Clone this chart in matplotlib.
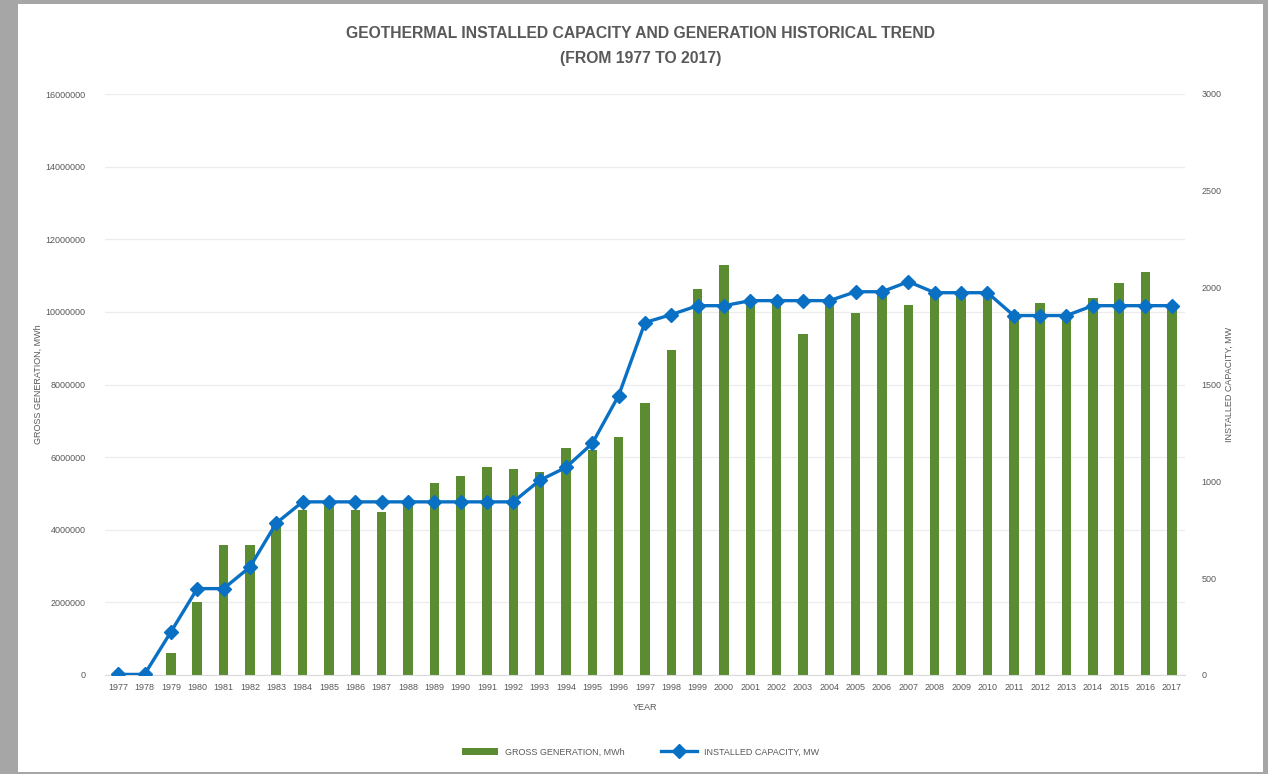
import matplotlib
matplotlib.use("Agg")
import matplotlib.pyplot as plt
from matplotlib.patches import Rectangle
from matplotlib.ticker import FixedLocator

years = ["1977", "1978", "1979", "1980", "1981", "1982", "1983", "1984", "1985", "1986",
         "1987", "1988", "1989", "1990", "1991", "1992", "1993", "1994", "1995", "1996",
         "1997", "1998", "1999", "2000", "2001", "2002", "2003", "2004", "2005", "2006",
         "2007", "2008", "2009", "2010", "2011", "2012", "2013", "2014", "2015", "2016", "2017"]

generation_mwh = [0, 0, 600000, 2000000, 3580000, 3580000, 4200000, 4550000, 4800000, 4550000,
                  4490000, 4750000, 5290000, 5480000, 5730000, 5670000, 5590000, 6250000, 6200000, 6550000,
                  7490000, 8950000, 10630000, 11300000, 10350000, 10300000, 9390000, 10300000, 9970000, 10520000,
                  10190000, 10600000, 10550000, 10450000, 10000000, 10250000, 9800000, 10390000, 10800000, 11100000,
                  10200000]

capacity_mw = [3, 3, 222, 446, 446, 557, 784, 894, 894, 894,
               894, 894, 894, 894, 894, 894, 1005, 1072, 1196, 1443,
               1820, 1861, 1907, 1907, 1933, 1933, 1933, 1933, 1979, 1979,
               2031, 1974, 1974, 1974, 1856, 1856, 1856, 1907, 1907, 1907,
               1907]

left_ticks = [0, 2000000, 4000000, 6000000, 8000000, 10000000, 12000000, 14000000, 16000000]
right_ticks = [0, 500, 1000, 1500, 2000, 2500, 3000]

title_text = "GEOTHERMAL INSTALLED CAPACITY AND GENERATION HISTORICAL TREND\n(FROM 1977 TO 2017)"
left_label = "GROSS GENERATION, MWh"
right_label = "INSTALLED CAPACITY, MW"
x_label = "YEAR"

FONT = ["Liberation Sans", "DejaVu Sans"]
plt.rcParams["font.family"] = FONT
TXT = "#595959"
GREEN = "#5b8c32"
BLUE = "#0a70c4"

fig = plt.figure(figsize=(12.68, 7.74), dpi=100, facecolor="#a6a6a6")
fig.patches.append(Rectangle((18 / 1268, 1 - 772 / 774), (1263 - 18) / 1268, (772 - 4) / 774,
                             transform=fig.transFigure, facecolor="white", edgecolor="none", zorder=-5))

ax = fig.add_axes([105 / 1268, 1 - 675 / 774, (1185 - 105) / 1268, (675 - 94) / 774])
ax.set_facecolor("none")
x = list(range(len(years)))
bars = ax.bar(x, generation_mwh, width=0.36, color=GREEN, label="GROSS GENERATION, MWh", zorder=2)
ax.set_xlim(-0.5, len(years) - 0.5)
ax.set_ylim(0, 16000000)
ax.yaxis.set_major_locator(FixedLocator(left_ticks))
ax.set_yticklabels([str(v) for v in left_ticks])
ax.set_xticks(x)
ax.set_xticklabels(years)
ax.grid(axis="y", color="#ececec", linewidth=0.9, zorder=0)
ax.set_axisbelow(True)
for s in ax.spines.values():
    s.set_visible(False)
ax.spines["bottom"].set_visible(True)
ax.spines["bottom"].set_color("#d9d9d9")
ax.tick_params(axis="both", length=0, labelsize=6.5, colors=TXT, pad=6)
ax.tick_params(axis="y", pad=14)
ax.set_ylabel(left_label, fontsize=6.5, color=TXT, labelpad=2)
ax.set_xlabel(x_label, fontsize=6.5, color=TXT, labelpad=8)

ax2 = ax.twinx()
line, = ax2.plot(x, capacity_mw, color=BLUE, linewidth=2.4, marker="D", markersize=7.5,
                 label="INSTALLED CAPACITY, MW", zorder=3)
ax2.set_ylim(0, 3000)
ax2.yaxis.set_major_locator(FixedLocator(right_ticks))
ax2.set_yticklabels([str(v) for v in right_ticks])
for s in ax2.spines.values():
    s.set_visible(False)
ax2.tick_params(axis="y", length=0, labelsize=6.5, colors=TXT, pad=12)
ax2.set_ylabel(right_label, fontsize=6.5, color=TXT, labelpad=2)

fig.text(0.505, 1 - 46 / 774, title_text, ha="center", va="center", fontsize=11.3,
         fontweight="bold", color=TXT, linespacing=1.75)

fig.legend(handles=[bars, line], loc="center", bbox_to_anchor=(0.505, 1 - 752 / 774),
           ncol=2, frameon=False, fontsize=6.5, labelcolor=TXT, handlelength=4, columnspacing=4)

fig.savefig("out.png", dpi=100, facecolor=fig.get_facecolor())
